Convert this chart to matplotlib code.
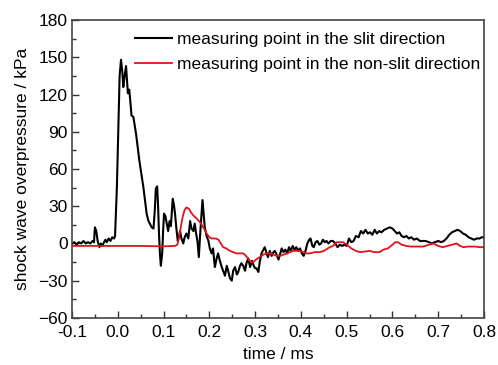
import matplotlib
matplotlib.use("Agg")
import matplotlib.pyplot as plt
from matplotlib.ticker import MultipleLocator, FormatStrFormatter

plt.rcParams['font.family'] = ['Liberation Sans', 'DejaVu Sans']

slit_t = [-0.100, -0.095, -0.090, -0.085, -0.080, -0.075, -0.070, -0.065, -0.060, -0.055, -0.052,
          -0.050, -0.047, -0.044, -0.040, -0.037, -0.034, -0.030, -0.027, -0.024, -0.020, -0.016,
          -0.012, -0.008, -0.006, -0.002, 0.001, 0.004, 0.007, 0.010, 0.012, 0.015, 0.018, 0.020,
          0.022, 0.025, 0.027, 0.030, 0.034, 0.037, 0.040, 0.044, 0.047, 0.052, 0.056, 0.060,
          0.063, 0.067, 0.070, 0.074, 0.078, 0.081, 0.083, 0.086, 0.088, 0.090, 0.092, 0.094,
          0.097, 0.099, 0.101, 0.104, 0.107, 0.110, 0.113, 0.116, 0.120, 0.123, 0.125, 0.128,
          0.131, 0.134, 0.136, 0.139, 0.143, 0.146, 0.150, 0.154, 0.158, 0.161, 0.165, 0.168,
          0.171, 0.174, 0.177, 0.180, 0.183, 0.185, 0.188, 0.190, 0.194, 0.198, 0.201, 0.205,
          0.208, 0.212, 0.216, 0.219, 0.223, 0.227, 0.230, 0.234, 0.238, 0.241, 0.245, 0.249,
          0.252, 0.256, 0.260, 0.263, 0.267, 0.270, 0.274, 0.278, 0.281, 0.285, 0.289, 0.293,
          0.297, 0.300, 0.303, 0.307, 0.310, 0.314, 0.318, 0.321, 0.325, 0.328, 0.332, 0.336,
          0.340, 0.343, 0.347, 0.351, 0.355, 0.358, 0.362, 0.366, 0.370, 0.374, 0.378, 0.382,
          0.386, 0.390, 0.394, 0.398, 0.402, 0.406, 0.410, 0.414, 0.418, 0.421, 0.425, 0.428,
          0.432, 0.436, 0.440, 0.444, 0.448, 0.452, 0.456, 0.460, 0.465, 0.470, 0.475, 0.480,
          0.485, 0.490, 0.495, 0.500, 0.505, 0.510, 0.515, 0.520, 0.526, 0.531, 0.536, 0.541,
          0.546, 0.551, 0.556, 0.561, 0.566, 0.571, 0.576, 0.582, 0.588, 0.594, 0.600, 0.605,
          0.610, 0.615, 0.620, 0.625, 0.630, 0.636, 0.641, 0.647, 0.653, 0.660, 0.666, 0.672,
          0.680, 0.686, 0.692, 0.700, 0.706, 0.712, 0.718, 0.724, 0.730, 0.736, 0.742, 0.748,
          0.754, 0.760, 0.766, 0.772, 0.778, 0.784, 0.790, 0.795, 0.800]
slit_p = [0, 1, -1, 1, 0, 2, 0, 1, 0, 2, 1,
          13, 10, 2, -3, 0, -2, 1, 3, 1, 4, 2,
          5, 4, 6, 45, 90, 135, 148, 138, 126, 135, 143, 132,
          121, 124, 116, 103, 102, 95, 88, 76, 67, 55, 45, 33,
          24, 18, 16, 13, 12, 28, 44, 46, 30, 8, -8, -18,
          -8, 10, 24, 22, 16, 10, 18, 14, 36, 30, 24, 12,
          2, 6, 10, 4, 0, 5, 8, 4, 18, 12, 10, 16,
          8, 2, -11, 8, 25, 35, 22, 13, 6, 2, -4, -8,
          -4, -19, -12, -8, -14, -19, -22, -26, -18, -22, -28, -30,
          -22, -19, -25, -23, -18, -16, -18, -22, -16, -12, -19, -14,
          -18, -20, -20, -23, -15, -8, -5, -3, -8, -11, -6, -10,
          -7, -6, -9, -13, -8, -4, -7, -5, -8, -3, -6, -2,
          -5, -3, -6, -4, -8, -10, -6, 0, 3, 4, -2, -3,
          1, 2, -1, 0, 3, 1, 2, 0, 2, 2, 0, -3,
          -1, -2, -1, -2, 4, 1, 2, 6, 5, 10, 8, 11,
          8, 9, 7, 11, 8, 10, 9, 11, 12, 13, 12, 10,
          8, 9, 6, 5, 6, 4, 5, 3, 4, 2, 2, 2,
          1, 0, 1, 2, 1, 2, 4, 7, 9, 10, 11, 10,
          8, 7, 5, 4, 3, 4, 4, 5, 5]

nonslit_t = [-0.100, -0.050, 0.000, 0.050, 0.100, 0.125, 0.130, 0.134, 0.138, 0.142, 0.146,
             0.150, 0.155, 0.160, 0.165, 0.170, 0.175, 0.180, 0.185, 0.190, 0.194, 0.200,
             0.205, 0.209, 0.214, 0.220, 0.225, 0.230, 0.237, 0.245, 0.252, 0.259, 0.266,
             0.274, 0.280, 0.286, 0.291, 0.296, 0.302, 0.310, 0.318, 0.325, 0.332, 0.340,
             0.347, 0.354, 0.362, 0.370, 0.376, 0.383, 0.390, 0.398, 0.405, 0.412, 0.420,
             0.430, 0.441, 0.450, 0.463, 0.470, 0.478, 0.485, 0.492, 0.500, 0.510, 0.520,
             0.529, 0.540, 0.550, 0.560, 0.572, 0.580, 0.590, 0.600, 0.606, 0.612, 0.620,
             0.630, 0.640, 0.655, 0.667, 0.680, 0.689, 0.700, 0.710, 0.720, 0.730, 0.740,
             0.748, 0.755, 0.765, 0.780, 0.790, 0.800]
nonslit_p = [-2, -2, -2, -2, -2.3, -2, -1, 5, 14, 22, 27,
             29, 28, 25, 22.5, 21, 19, 17, 14, 11, 8, 5,
             4, 4, 4, 3, 0, -3, -4, -6, -7, -8, -8,
             -8, -10, -13, -15, -15, -13, -11, -9, -8, -8, -9,
             -10, -10, -9, -8, -7, -6, -6, -6, -7, -8, -8,
             -7, -7, -6, -3, -2, 1, 1, 1, -1, -4, -6,
             -7, -6.5, -6, -7, -7, -5, -4, -1, 1, 1, -1,
             -2, -2.5, -2.5, -2.5, -1, 0, -2, -3, -2, -1, 0,
             -2, -3, -2.5, -2.5, -3, -3]

labels = ['measuring point in the slit direction', 'measuring point in the non-slit direction']

FS = 12.5
fig = plt.figure(figsize=(4.98, 3.65), dpi=100)
ax = fig.add_axes([0.1446, 0.129, 0.8274, 0.816])
ax.plot(slit_t, slit_p, color='black', lw=1.5, label=labels[0])
ax.plot(nonslit_t, nonslit_p, color='#e3121b', lw=1.3, label=labels[1])

ax.set_xlim(-0.1, 0.8)
ax.set_ylim(-60, 180)
ax.xaxis.set_major_locator(MultipleLocator(0.1))
ax.xaxis.set_minor_locator(MultipleLocator(0.05))
ax.yaxis.set_major_locator(MultipleLocator(30))
ax.yaxis.set_minor_locator(MultipleLocator(15))
ax.xaxis.set_major_formatter(FormatStrFormatter('%.1f'))
ax.tick_params(which='both', direction='in', labelsize=FS, colors='#333333', labelcolor='black')
ax.tick_params(which='major', length=5, width=1)
ax.tick_params(which='minor', length=3, width=1)
ax.tick_params(axis='x', pad=5)
ax.tick_params(axis='y', pad=3)
for s in ax.spines.values():
    s.set_color('#444444')
    s.set_linewidth(1.2)

ax.set_xlabel('time / ms', fontsize=FS, labelpad=5)
ax.set_ylabel('shock wave overpressure / kPa', fontsize=FS, labelpad=6)

leg = ax.legend(loc='upper left', bbox_to_anchor=(0.153, 0.96), frameon=False, fontsize=FS,
                handlelength=2.13, handletextpad=0.29, labelspacing=0.58,
                borderaxespad=0.0, borderpad=0.0)

fig.savefig('out.png', dpi=100)
